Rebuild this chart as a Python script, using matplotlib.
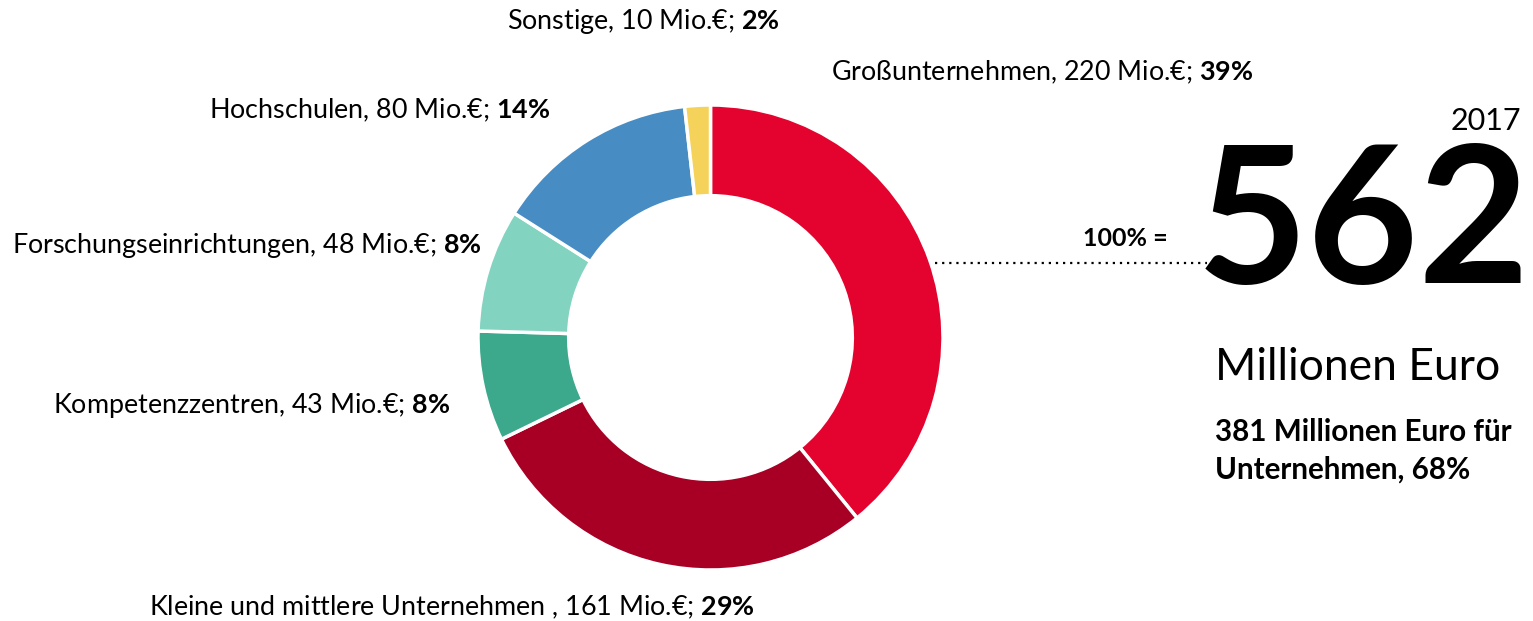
import matplotlib
matplotlib.use("Agg")
import matplotlib.pyplot as plt

# Fördermittel 2017 nach Empfängergruppe (Mio. €)
labels = ["Großunternehmen", "Kleine und mittlere Unternehmen ", "Kompetenzzentren",
          "Forschungseinrichtungen", "Hochschulen", "Sonstige"]
values = [220, 161, 43, 48, 80, 10]
shares = [39, 29, 8, 8, 14, 2]
colors = ["#E4032E", "#A80024", "#3CA88C", "#82D4C0", "#478CC3", "#F5D25A"]
total = 562
year = "2017"

plt.rcParams["font.family"] = ["Lato", "DejaVu Sans"]
plt.rcParams["mathtext.fontset"] = "custom"
plt.rcParams["mathtext.rm"] = "Lato"
plt.rcParams["mathtext.bf"] = "Lato:bold"

W, H = 1533, 621
fig = plt.figure(figsize=(W / 100, H / 100), dpi=100)
ax = fig.add_axes([0, 0, 1, 1])

def py(y):
    # pixel y von oben -> Datenkoordinate
    return H - y

cx, cy, r = 710.5, py(337.5), 232.5
ax.pie(values, colors=colors, startangle=90, counterclock=False,
       center=(cx, cy), radius=r, frame=True,
       wedgeprops=dict(width=r * 0.39, edgecolor="white", linewidth=2.5))
ax.set_xlim(0, W)
ax.set_ylim(0, H)
ax.set_aspect("equal")
ax.axis("off")

# Beschriftungen (x, y, Ausrichtung)
label_pos = [
    (831, 72, "left"),
    (755, 607, "right"),
    (450, 405, "right"),
    (482, 245, "right"),
    (550, 110, "right"),
    (780, 22, "right"),
]
for lab, v, s, (x, y, ha) in zip(labels, values, shares, label_pos):
    txt = f"{lab}, {v} Mio.€; " + r"$\mathbf{" + str(s) + r"\%}$"
    ax.text(x, py(y), txt, ha=ha, va="center", fontsize=19.4)

# Gesamtsumme rechts
ax.text(1168, py(238), "100% =", ha="right", va="center", fontsize=18, fontweight="bold")
ax.plot([935, 1207], [py(263), py(263)], color="black", linestyle=(0, (1, 2.2)), linewidth=1.6)
ax.text(1521, py(121), year, ha="right", va="center", fontsize=22)
ax.text(1530, py(228), str(total), ha="right", va="center", fontsize=138,
        fontweight="bold", fontstyle="normal")
ax.text(1215, py(368), "Millionen Euro", ha="left", va="center", fontsize=32)
ax.text(1215, py(432), "381 Millionen Euro für", ha="left", va="center",
        fontsize=21.3, fontweight="bold")
ax.text(1215, py(470), "Unternehmen, 68%", ha="left", va="center",
        fontsize=21.3, fontweight="bold")

fig.savefig("out.png", dpi=100)
